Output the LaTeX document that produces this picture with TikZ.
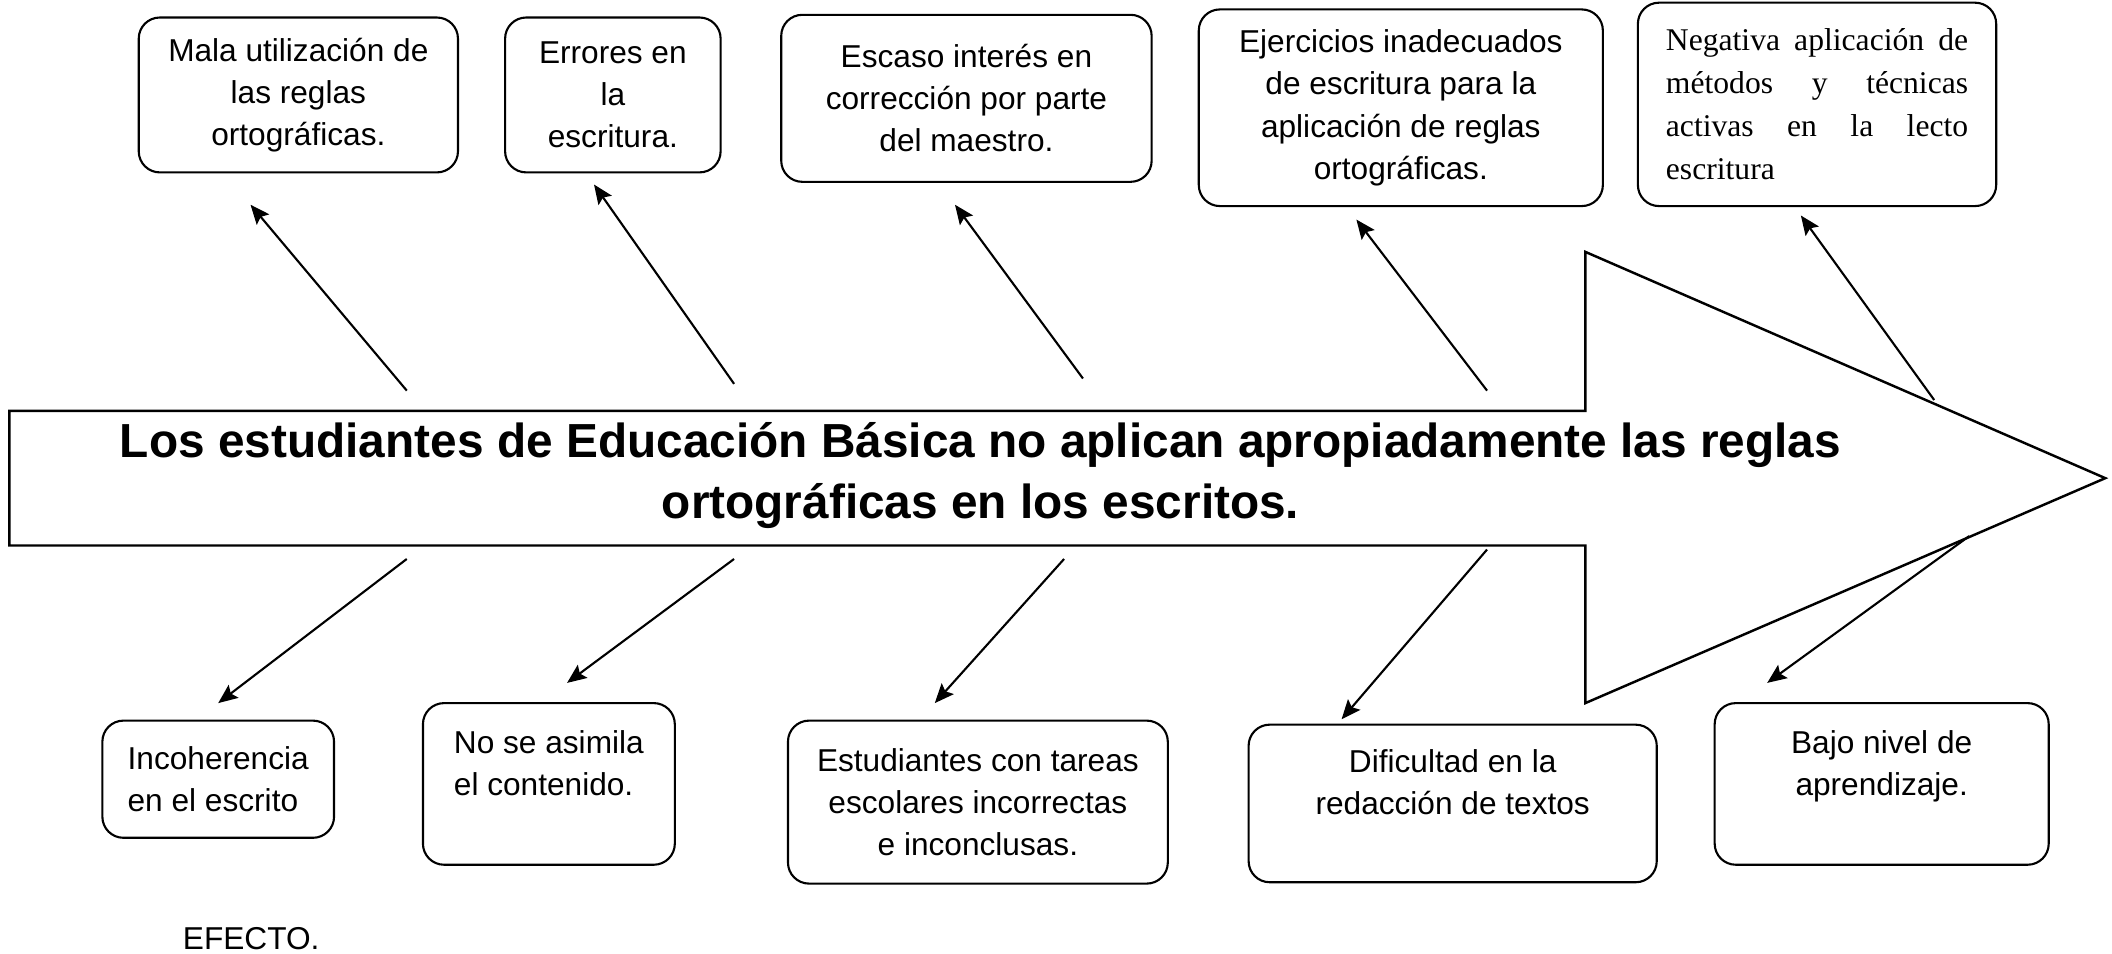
\documentclass[tikz,border=0pt]{standalone}
\usepackage{fontspec}
\setmainfont{Liberation Sans}
\newfontfamily\timesfont{Liberation Serif}
\usetikzlibrary{arrows.meta}
\newcommand{\pxu}{0.1347mm}

\tikzset{
  caja/.style 2 args={draw, rounded corners=6pt, line width=0.6pt, inner sep=0pt,
    align=center, font=\fontsize{9}{12}\selectfont,
    minimum width=#1*\pxu, minimum height=#2*\pxu},
  flecha/.style={-{Stealth[length=5.5pt,width=4.6pt,inset=1pt]}, line width=0.6pt}
}

\begin{document}
\begin{tikzpicture}[x=\pxu, y=-\pxu]
              \useasboundingbox (0,0) rectangle (1568,708);
              % flecha central
              \draw[line width=0.7pt] (7,305) -- (1177,305) -- (1177,187) -- (1563,355)
                -- (1177,522) -- (1177,405) -- (7,405) -- cycle;
              \node[font=\bfseries\fontsize{13.6}{17.6}\selectfont, align=center] (problema) at (728,353)
                {Los estudiantes de Educación Básica no aplican apropiadamente las reglas\\ortográficas en los escritos.};

              % causas
              \node[caja={237}{115}] (causa1) at (221.5,70.5) {Mala utilización de\\las reglas\\ortográficas.};
              \node[caja={160}{115}] (causa2) at (455,70.5) {Errores en\\la\\escritura.};
              \node[caja={275}{124}] (causa3) at (717.5,73) {Escaso interés en\\corrección por parte\\del maestro.};
              \node[caja={300}{146}] (causa4) at (1040,80) {Ejercicios inadecuados\\de escritura para la\\aplicación de reglas\\ortográficas.};
              \node[caja={266}{151}, align=left, font=\timesfont\fontsize{9}{12.2}\selectfont] (causa5) at (1349,77.5)
                {\makebox[86pt][s]{Negativa aplicación de}\\\makebox[86pt][s]{métodos y técnicas}\\\makebox[86pt][s]{activas en la lecto}\\escritura};

              % efectos
              \node[caja={172}{87}, align=left] (efecto1) at (162,578.5) {Incoherencia\\en el escrito};
              \node[caja={187}{120}, align=left] (efecto2) at (407.5,582) {No se asimila\\el contenido.\\\mbox{}};
              \node[caja={282}{121}] (efecto3) at (726,595.5) {Estudiantes con tareas\\escolares incorrectas\\e inconclusas.};
              \node[caja={303}{117}] (efecto4) at (1078.5,596.5) {Dificultad en la\\redacción de textos\\\mbox{}};
              \node[caja={248}{120}] (efecto5) at (1397,582) {Bajo nivel de\\aprendizaje.\\\mbox{}};
              \node[font=\fontsize{9}{12}\selectfont] (rotulo) at (186.5,697) {EFECTO.};

              % puntas de las flechas
              \coordinate (c1a) at (302,290);  \coordinate (c1b) at (186,152);
              \coordinate (c2a) at (545,285);  \coordinate (c2b) at (441,137);
              \coordinate (c3a) at (804,281);  \coordinate (c3b) at (709,152);
              \coordinate (c4a) at (1104,290); \coordinate (c4b) at (1007,163);
              \coordinate (c5a) at (1436,297); \coordinate (c5b) at (1337,160);
              \coordinate (e1a) at (302,415);  \coordinate (e1b) at (162,522);
              \coordinate (e2a) at (545,415);  \coordinate (e2b) at (421,507);
              \coordinate (e3a) at (790,415);  \coordinate (e3b) at (694,522);
              \coordinate (e4a) at (1104,408); \coordinate (e4b) at (996,534);
              \coordinate (e5a) at (1462,398); \coordinate (e5b) at (1312,507);

              \draw[flecha] (c1a) -- (c1b);
              \draw[flecha] (c2a) -- (c2b);
              \draw[flecha] (c3a) -- (c3b);
              \draw[flecha] (c4a) -- (c4b);
              \draw[flecha] (c5a) -- (c5b);
              \draw[flecha] (e1a) -- (e1b);
              \draw[flecha] (e2a) -- (e2b);
              \draw[flecha] (e3a) -- (e3b);
              \draw[flecha] (e4a) -- (e4b);
              \draw[flecha] (e5a) -- (e5b);
            \end{tikzpicture}
\end{document}
